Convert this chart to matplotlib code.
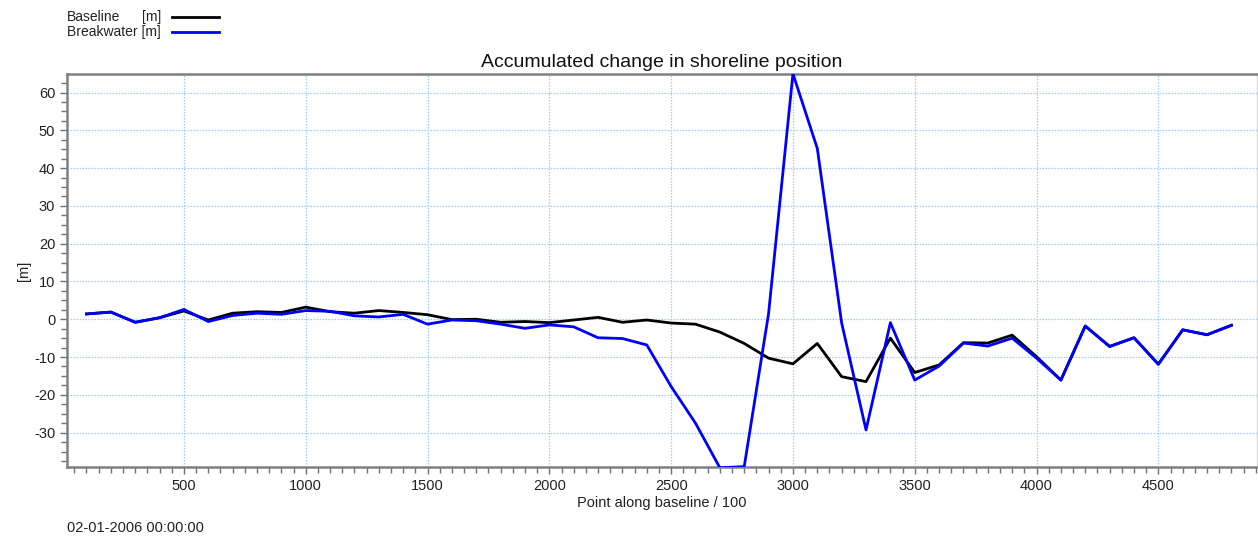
import matplotlib
matplotlib.use("Agg")
import matplotlib.pyplot as plt
from matplotlib.lines import Line2D
from matplotlib.ticker import MultipleLocator

plt.rcParams['font.family'] = ['Liberation Sans', 'DejaVu Sans']
plt.rcParams['axes.unicode_minus'] = False

points = list(range(100, 4900, 100))

baseline = [1.4, 1.9, -0.8, 0.4, 2.2, -0.2, 1.6, 2.0, 1.8, 3.2,
            2.0, 1.6, 2.3, 1.8, 1.2, -0.1, 0.0, -0.8, -0.6, -0.9,
            -0.2, 0.5, -0.8, -0.2, -1.0, -1.3, -3.4, -6.4, -10.3, -11.8,
            -6.4, -15.2, -16.5, -5.0, -14.1, -12.1, -6.2, -6.3, -4.2, -9.9,
            -16.1, -1.8, -7.2, -4.9, -11.9, -2.8, -4.1, -1.6]

breakwater = [1.4, 1.9, -0.8, 0.4, 2.6, -0.6, 1.0, 1.6, 1.3, 2.3,
              2.1, 0.9, 0.6, 1.3, -1.3, -0.2, -0.4, -1.3, -2.4, -1.5,
              -2.0, -4.9, -5.1, -6.8, -17.8, -27.5, -39.3, -39.0, 1.5, 65.0,
              45.2, -1.0, -29.3, -0.9, -16.1, -12.4, -6.3, -7.1, -5.0, -10.3,
              -16.1, -1.8, -7.2, -4.9, -11.9, -2.8, -4.1, -1.6]

title = "Accumulated change in shoreline position"
x_label = "Point along baseline / 100"
y_label = "[m]"
timestamp = "02-01-2006 00:00:00"

fig = plt.figure(figsize=(12.58, 5.43), dpi=100)
ax = fig.add_axes([67 / 1258, 76 / 543, 1190 / 1258, 393 / 543])

ax.plot(points, baseline, color='black', lw=2.0, zorder=3)
ax.plot(points, breakwater, color='#0000FF', lw=2.0, zorder=4)

ax.set_xlim(20, 4905)
ax.set_ylim(-39.1, 64.9)

ax.xaxis.set_major_locator(MultipleLocator(500))
ax.xaxis.set_minor_locator(MultipleLocator(50))
ax.yaxis.set_major_locator(MultipleLocator(10))
ax.yaxis.set_minor_locator(MultipleLocator(2.5))

ax.grid(True, which='major', color='#9CCBFF', linestyle=(0, (1.2, 1.2)), lw=0.9)

ax.tick_params(which='both', direction='out', color='#707070', labelsize=10.5,
               labelcolor='#222222')
ax.tick_params(which='major', length=5, width=1)
ax.tick_params(which='minor', length=4, width=1)
ax.tick_params(axis='x', pad=4)

for side in ('left', 'bottom', 'top'):
    ax.spines[side].set_color('#808080')
    ax.spines[side].set_linewidth(1.8)
ax.spines['right'].set_color('#DADADA')
ax.spines['right'].set_linewidth(1.0)

ax.set_title(title, fontsize=14, color='#111111', pad=5)
ax.set_xlabel(x_label, fontsize=10.5, color='#222222', labelpad=2)
ax.set_ylabel(y_label, fontsize=10.5, color='#222222', labelpad=2)

# legend block above the axes
fig.text(67 / 1258, 1 - 17 / 543, "Baseline", fontsize=10, va='center', color='#222222')
fig.text(142 / 1258, 1 - 17 / 543, "[m]", fontsize=10, va='center', color='#222222')
fig.text(67 / 1258, 1 - 32 / 543, "Breakwater [m]", fontsize=10, va='center', color='#222222')
fig.lines.append(Line2D([172 / 1258, 219 / 1258], [1 - 17 / 543, 1 - 17 / 543],
                        transform=fig.transFigure, color='black', lw=2.0))
fig.lines.append(Line2D([172 / 1258, 219 / 1258], [1 - 32 / 543, 1 - 32 / 543],
                        transform=fig.transFigure, color='#0000FF', lw=2.0))

fig.text(67 / 1258, 1 - 528 / 543, timestamp, fontsize=10.5, va='center', color='#222222')

fig.savefig("out.png", dpi=100)
